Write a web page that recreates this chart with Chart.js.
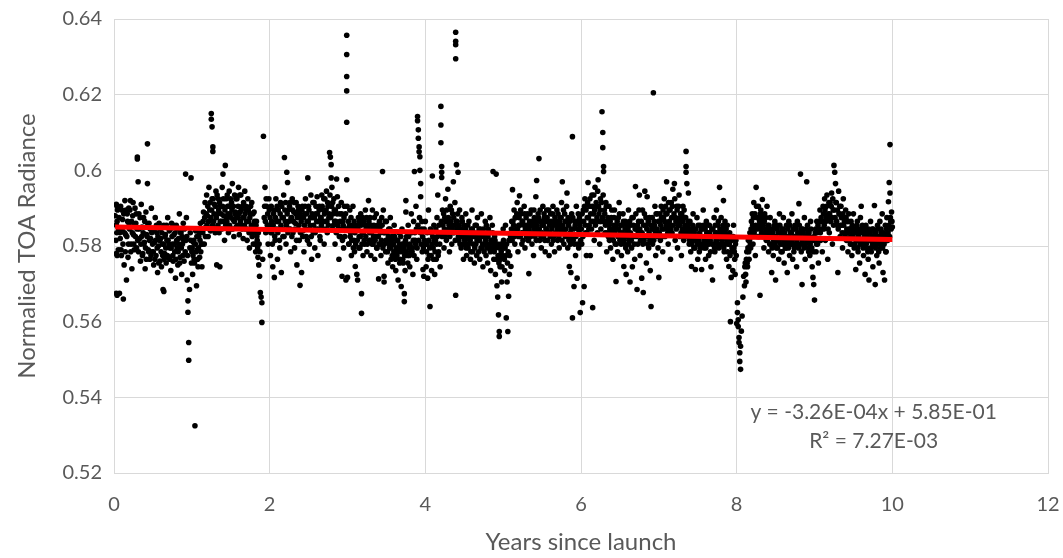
<!DOCTYPE html>
<html>
<head>
<meta charset="utf-8">
<script src="https://cdn.jsdelivr.net/npm/chart.js@4.4.1/dist/chart.umd.min.js"></script>
<style>
  html, body { margin: 0; padding: 0; background: #fff; }
  #wrap { width: 1063px; height: 558px; }
</style>
</head>
<body>
<div id="wrap"><canvas id="toaChart" width="1063" height="558"></canvas></div>
<script>
// [years since launch, normalised radiance], one year at a time
const year0 = [[0.03,0.591],[0.03,0.5855],[0.03,0.578],[0.03,0.5675],[0.04,0.5905],[0.04,0.5865],[0.04,0.5775],[0.04,0.567],[0.06,0.5845],[0.07,0.5675],[0.08,0.582],[0.09,0.579],[0.10,0.5895],[0.11,0.587],[0.12,0.566],[0.13,0.575],[0.14,0.592],[0.15,0.583],[0.16,0.571],[0.17,0.5885],[0.18,0.577],[0.19,0.590],[0.20,0.5845],[0.21,0.592],[0.22,0.5805],[0.23,0.574],[0.24,0.588],[0.25,0.583],[0.26,0.579],[0.27,0.590],[0.28,0.586],[0.29,0.5795],[0.30,0.6035],[0.30,0.603],[0.31,0.597],[0.32,0.5885],[0.33,0.582],[0.34,0.576],[0.35,0.591],[0.36,0.585],[0.37,0.578],[0.38,0.5875],[0.39,0.581],[0.40,0.574],[0.41,0.589],[0.42,0.583],[0.43,0.607],[0.43,0.5965],[0.44,0.579],[0.45,0.586],[0.46,0.5765],[0.47,0.582],[0.48,0.590],[0.49,0.5785],[0.50,0.584],[0.51,0.575],[0.52,0.581],[0.53,0.5875],[0.54,0.5775],[0.55,0.5835],[0.56,0.573],[0.57,0.580],[0.58,0.586],[0.59,0.576],[0.60,0.582],[0.61,0.5745],[0.62,0.5805],[0.63,0.5685],[0.64,0.568],[0.64,0.5855],[0.65,0.578],[0.66,0.583],[0.67,0.5755],[0.68,0.5815],[0.69,0.5875],[0.70,0.577],[0.71,0.584],[0.72,0.5795],[0.73,0.5735],[0.74,0.586],[0.75,0.5805],[0.76,0.576],[0.77,0.583],[0.78,0.5785],[0.79,0.5715],[0.80,0.5855],[0.81,0.5795],[0.82,0.575],[0.83,0.582],[0.84,0.5885],[0.85,0.577],[0.86,0.5835],[0.87,0.5725],[0.88,0.5805],[0.89,0.586],[0.90,0.576],[0.91,0.5815],[0.92,0.599],[0.93,0.5875],[0.94,0.571],[0.95,0.5655],[0.95,0.5625],[0.96,0.5545],[0.96,0.5498],[0.97,0.5685],[0.98,0.5835],[0.99,0.598],[1.00,0.5785],
  [0.015,0.588],[0.025,0.5815],[0.035,0.5835],[0.045,0.5895],[0.055,0.579],[0.065,0.5875],[0.075,0.5835],[0.085,0.5905],[0.095,0.5775],[0.105,0.5845],[0.115,0.5805],[0.125,0.5885],[0.135,0.5835],[0.145,0.5785],[0.155,0.5895],[0.165,0.5825],[0.175,0.5865],[0.185,0.5805],[0.195,0.5855],[0.205,0.5895],[0.215,0.5785],[0.225,0.5865],[0.235,0.5835],[0.245,0.5915],[0.255,0.5805],[0.265,0.5855],[0.275,0.5825],[0.285,0.5885],[0.295,0.5845],[0.305,0.5815],[0.315,0.5785],[0.325,0.5845],[0.335,0.5875],[0.345,0.5805],[0.355,0.5825],[0.365,0.5775],[0.375,0.5835],[0.385,0.5805],[0.395,0.5865],[0.405,0.5795],[0.415,0.5765],[0.425,0.5825],[0.435,0.5855],[0.445,0.5785],[0.455,0.5815],[0.465,0.5845],[0.475,0.5775],[0.485,0.5835],[0.495,0.5805],[0.505,0.5785],[0.515,0.5845],[0.525,0.5765],[0.535,0.5815],[0.545,0.5855],[0.555,0.5795],[0.565,0.5825],[0.575,0.5755],[0.585,0.5815],[0.595,0.5845],[0.605,0.5785],[0.615,0.5835],[0.625,0.5775],[0.635,0.5805],[0.645,0.5765],[0.655,0.5825],[0.665,0.5795],[0.675,0.5855],[0.685,0.5775],[0.695,0.5815],[0.705,0.5805],[0.715,0.5765],[0.725,0.5845],[0.735,0.5795],[0.745,0.5825],[0.755,0.5775],[0.765,0.5855],[0.775,0.5805],[0.785,0.5835],[0.795,0.5765],[0.805,0.5815],[0.815,0.5845],[0.825,0.5785],[0.835,0.5805],[0.845,0.5755],[0.855,0.5835],[0.865,0.5795],[0.875,0.5825],[0.885,0.5775],[0.895,0.5815],[0.905,0.5845],[0.915,0.5785],[0.925,0.5815],[0.935,0.5825],[0.945,0.5775],[0.975,0.5795],[0.985,0.5815],[0.995,0.5755]];
const year1 = [[1.01,0.5725],[1.02,0.581],[1.03,0.5765],[1.04,0.5325],[1.05,0.584],[1.06,0.5695],[1.07,0.579],[1.08,0.5745],[1.09,0.5825],[1.10,0.577],[1.11,0.586],[1.12,0.5805],[1.13,0.5745],[1.14,0.5835],[1.15,0.589],[1.16,0.5805],[1.17,0.5915],[1.18,0.585],[1.19,0.5935],[1.20,0.588],[1.21,0.5825],[1.22,0.5955],[1.23,0.5895],[1.24,0.584],[1.25,0.615],[1.25,0.6135],[1.26,0.6115],[1.26,0.5925],[1.27,0.6062],[1.27,0.605],[1.28,0.5865],[1.29,0.591],[1.30,0.5835],[1.31,0.5945],[1.32,0.575],[1.33,0.5885],[1.34,0.5925],[1.35,0.5835],[1.36,0.5745],[1.37,0.5905],[1.38,0.5865],[1.39,0.5955],[1.40,0.599],[1.41,0.588],[1.42,0.5815],[1.43,0.6013],[1.44,0.5925],[1.45,0.5865],[1.46,0.5905],[1.47,0.5835],[1.48,0.5945],[1.49,0.5885],[1.50,0.5845],[1.51,0.5915],[1.52,0.5965],[1.53,0.587],[1.54,0.5825],[1.55,0.5935],[1.56,0.589],[1.57,0.585],[1.58,0.5925],[1.59,0.5875],[1.60,0.5955],[1.61,0.583],[1.62,0.589],[1.63,0.5935],[1.64,0.5855],[1.65,0.5905],[1.66,0.582],[1.67,0.5875],[1.68,0.5945],[1.69,0.5845],[1.70,0.5895],[1.71,0.5815],[1.72,0.5925],[1.73,0.5865],[1.74,0.5795],[1.75,0.5885],[1.76,0.5835],[1.77,0.5915],[1.78,0.5855],[1.79,0.5805],[1.80,0.589],[1.81,0.5835],[1.82,0.5785],[1.83,0.5865],[1.84,0.5815],[1.85,0.577],[1.86,0.575],[1.87,0.572],[1.88,0.5677],[1.89,0.5665],[1.90,0.565],[1.90,0.5598],[1.91,0.5765],[1.92,0.609],[1.93,0.5875],[1.94,0.5955],[1.95,0.5835],[1.96,0.5905],[1.97,0.5855],[1.98,0.5805],[1.99,0.5925],
  [1.005,0.5795],[1.015,0.5775],[1.025,0.5815],[1.035,0.5755],[1.045,0.5805],[1.055,0.5785],[1.065,0.5825],[1.075,0.5765],[1.085,0.5795],[1.095,0.5835],[1.105,0.5815],[1.115,0.5785],[1.125,0.5845],[1.135,0.5805],[1.145,0.5865],[1.155,0.5845],[1.165,0.5875],[1.175,0.5825],[1.185,0.5885],[1.195,0.5855],[1.205,0.5905],[1.215,0.5865],[1.225,0.5845],[1.235,0.5915],[1.245,0.5875],[1.255,0.5895],[1.265,0.5855],[1.275,0.5925],[1.285,0.5885],[1.295,0.5845],[1.305,0.5905],[1.315,0.5875],[1.325,0.5935],[1.335,0.5855],[1.345,0.5895],[1.355,0.5915],[1.365,0.5865],[1.375,0.5885],[1.385,0.5845],[1.395,0.5905],[1.405,0.5925],[1.415,0.5865],[1.425,0.5895],[1.435,0.5855],[1.445,0.5875],[1.455,0.5935],[1.465,0.5885],[1.475,0.5905],[1.485,0.5855],[1.495,0.5925],[1.505,0.5875],[1.515,0.5895],[1.525,0.5845],[1.535,0.5905],[1.545,0.5865],[1.555,0.5885],[1.565,0.5925],[1.575,0.5875],[1.585,0.5855],[1.595,0.5905],[1.605,0.5885],[1.615,0.5935],[1.625,0.5865],[1.635,0.5895],[1.645,0.5845],[1.655,0.5875],[1.665,0.5915],[1.675,0.5855],[1.685,0.5885],[1.695,0.5905],[1.705,0.5865],[1.715,0.5845],[1.725,0.5895],[1.735,0.5835],[1.745,0.5875],[1.755,0.5905],[1.765,0.5855],[1.775,0.5825],[1.785,0.5885],[1.795,0.5845],[1.805,0.5865],[1.815,0.5805],[1.825,0.5855],[1.835,0.5825],[1.845,0.5795],[1.855,0.5835],[1.865,0.5805],[1.875,0.5785],[1.935,0.5905],[1.945,0.5865],[1.955,0.5925],[1.965,0.5845],[1.975,0.5885],[1.985,0.5855],[1.995,0.5895]];
const year2 = [[2.00,0.5855],[2.01,0.5775],[2.02,0.5905],[2.03,0.5835],[2.04,0.5745],[2.05,0.5885],[2.06,0.5717],[2.07,0.5815],[2.08,0.5925],[2.09,0.5865],[2.10,0.5765],[2.11,0.5895],[2.12,0.5845],[2.13,0.5795],[2.14,0.5915],[2.15,0.573],[2.16,0.5875],[2.17,0.5825],[2.18,0.5935],[2.19,0.6034],[2.20,0.5865],[2.21,0.5805],[2.22,0.5995],[2.23,0.5968],[2.24,0.5895],[2.25,0.5845],[2.26,0.5915],[2.27,0.5785],[2.28,0.5875],[2.29,0.5925],[2.30,0.5835],[2.31,0.589],[2.32,0.5795],[2.33,0.586],[2.34,0.5915],[2.35,0.575],[2.36,0.5845],[2.37,0.5895],[2.38,0.5815],[2.39,0.5696],[2.40,0.5875],[2.41,0.573],[2.42,0.5905],[2.43,0.584],[2.44,0.5785],[2.45,0.5885],[2.46,0.5925],[2.47,0.5825],[2.48,0.5865],[2.49,0.598],[2.50,0.5905],[2.51,0.5805],[2.52,0.5855],[2.53,0.5935],[2.54,0.5765],[2.55,0.5875],[2.56,0.5835],[2.57,0.5915],[2.58,0.5795],[2.59,0.5885],[2.60,0.5845],[2.61,0.593],[2.62,0.5775],[2.63,0.5865],[2.64,0.5905],[2.65,0.5815],[2.66,0.5875],[2.67,0.5935],[2.68,0.5845],[2.69,0.5895],[2.70,0.5805],[2.71,0.5925],[2.72,0.5865],[2.73,0.5945],[2.74,0.5835],[2.75,0.5905],[2.76,0.5875],[2.77,0.6047],[2.78,0.6035],[2.79,0.6015],[2.79,0.598],[2.80,0.5955],[2.81,0.5915],[2.82,0.5855],[2.83,0.5895],[2.84,0.5805],[2.85,0.5865],[2.86,0.5977],[2.87,0.593],[2.88,0.5845],[2.89,0.5765],[2.90,0.5885],[2.91,0.5825],[2.92,0.5915],[2.93,0.572],[2.94,0.5865],[2.95,0.5795],[2.96,0.5905],[2.97,0.5845],[2.98,0.571],[2.99,0.6357],[2.99,0.6306],[2.99,0.6248],[2.99,0.621],[2.99,0.6127],[2.99,0.5975],
  [2.005,0.5875],[2.015,0.5835],[2.025,0.5865],[2.035,0.5805],[2.045,0.5855],[2.055,0.5895],[2.065,0.5825],[2.075,0.5875],[2.085,0.5845],[2.095,0.5905],[2.105,0.5835],[2.115,0.5865],[2.125,0.5815],[2.135,0.5885],[2.145,0.5855],[2.155,0.5905],[2.165,0.5845],[2.175,0.5875],[2.185,0.5825],[2.195,0.5895],[2.205,0.5915],[2.215,0.5855],[2.225,0.5885],[2.235,0.5835],[2.245,0.5865],[2.255,0.5905],[2.265,0.5845],[2.275,0.5875],[2.285,0.5825],[2.295,0.5895],[2.305,0.5865],[2.315,0.5915],[2.325,0.5845],[2.335,0.5885],[2.345,0.5815],[2.355,0.5875],[2.365,0.5905],[2.375,0.5855],[2.385,0.5885],[2.395,0.5835],[2.405,0.5865],[2.415,0.5895],[2.425,0.5825],[2.435,0.5875],[2.445,0.5855],[2.455,0.5905],[2.465,0.5845],[2.475,0.5885],[2.485,0.5815],[2.495,0.5865],[2.505,0.5895],[2.515,0.5845],[2.525,0.5875],[2.535,0.5825],[2.545,0.5885],[2.555,0.5915],[2.565,0.5855],[2.575,0.5875],[2.585,0.5835],[2.595,0.5905],[2.605,0.5865],[2.615,0.5885],[2.625,0.5845],[2.635,0.5895],[2.645,0.5825],[2.655,0.5875],[2.665,0.5855],[2.675,0.5905],[2.685,0.5865],[2.695,0.5925],[2.705,0.5885],[2.715,0.5845],[2.725,0.5895],[2.735,0.5865],[2.745,0.5915],[2.755,0.5855],[2.765,0.5885],[2.775,0.5935],[2.785,0.5875],[2.795,0.5905],[2.805,0.5845],[2.815,0.5885],[2.825,0.5925],[2.835,0.5865],[2.845,0.5895],[2.855,0.5835],[2.865,0.5885],[2.875,0.5855],[2.885,0.5905],[2.895,0.5825],[2.905,0.5865],[2.915,0.5845],[2.925,0.5885],[2.935,0.5815],[2.945,0.5855],[2.955,0.5875],[2.965,0.5825],[2.975,0.5885],[2.985,0.5845],[2.995,0.5905]];
const year3 = [[3.00,0.5717],[3.01,0.5865],[3.02,0.5805],[3.03,0.5895],[3.04,0.5835],[3.05,0.5775],[3.06,0.5855],[3.07,0.5905],[3.08,0.5815],[3.09,0.5785],[3.10,0.5746],[3.11,0.5845],[3.12,0.5725],[3.13,0.571],[3.14,0.5875],[3.15,0.5825],[3.16,0.5795],[3.17,0.5885],[3.18,0.5674],[3.18,0.5622],[3.19,0.5835],[3.20,0.5775],[3.21,0.5865],[3.22,0.5805],[3.23,0.5895],[3.24,0.5845],[3.25,0.5785],[3.26,0.5855],[3.27,0.592],[3.28,0.5815],[3.29,0.5875],[3.30,0.5775],[3.31,0.5835],[3.32,0.5895],[3.33,0.5805],[3.34,0.5855],[3.35,0.5765],[3.36,0.5825],[3.37,0.5885],[3.38,0.5795],[3.39,0.5845],[3.40,0.5713],[3.41,0.5865],[3.42,0.5805],[3.43,0.5775],[3.44,0.5875],[3.45,0.5997],[3.46,0.5895],[3.47,0.572],[3.47,0.5705],[3.48,0.5835],[3.49,0.5785],[3.50,0.5865],[3.51,0.5815],[3.52,0.5755],[3.53,0.5845],[3.54,0.5795],[3.55,0.5875],[3.56,0.5765],[3.57,0.5825],[3.58,0.5745],[3.59,0.5805],[3.60,0.5855],[3.61,0.5775],[3.62,0.5735],[3.63,0.5815],[3.64,0.5785],[3.65,0.571],[3.66,0.5835],[3.67,0.5755],[3.68,0.5795],[3.69,0.5693],[3.70,0.5845],[3.71,0.5765],[3.72,0.5805],[3.73,0.5674],[3.73,0.5653],[3.74,0.5735],[3.75,0.592],[3.75,0.589],[3.76,0.5825],[3.77,0.5775],[3.78,0.5855],[3.79,0.5795],[3.80,0.5745],[3.81,0.5835],[3.82,0.5885],[3.83,0.5785],[3.84,0.5725],[3.85,0.5865],[3.86,0.5997],[3.87,0.5815],[3.88,0.5905],[3.89,0.5765],[3.90,0.6142],[3.90,0.6131],[3.91,0.6107],[3.91,0.6085],[3.92,0.6062],[3.92,0.6049],[3.93,0.6036],[3.93,0.600],[3.94,0.5965],[3.94,0.593],[3.95,0.5845],[3.96,0.5785],[3.97,0.5738],[3.98,0.572],[3.99,0.5815],
  [3.005,0.5845],[3.015,0.5805],[3.025,0.5855],[3.035,0.5825],[3.045,0.5875],[3.055,0.5815],[3.065,0.5845],[3.075,0.5795],[3.085,0.5865],[3.095,0.5835],[3.105,0.5805],[3.115,0.5855],[3.125,0.5815],[3.135,0.5845],[3.145,0.5795],[3.155,0.5865],[3.165,0.5825],[3.175,0.5855],[3.185,0.5805],[3.195,0.5875],[3.205,0.5835],[3.215,0.5815],[3.225,0.5855],[3.235,0.5825],[3.245,0.5875],[3.255,0.5805],[3.265,0.5845],[3.275,0.5865],[3.285,0.5835],[3.295,0.5815],[3.305,0.5855],[3.315,0.5805],[3.325,0.5845],[3.335,0.5825],[3.345,0.5875],[3.355,0.5815],[3.365,0.5845],[3.375,0.5795],[3.385,0.5855],[3.395,0.5825],[3.405,0.5805],[3.415,0.5845],[3.425,0.5835],[3.435,0.5815],[3.445,0.5855],[3.455,0.5795],[3.465,0.5835],[3.475,0.5805],[3.485,0.5865],[3.495,0.5815],[3.505,0.5835],[3.515,0.5785],[3.525,0.5825],[3.535,0.5805],[3.545,0.5845],[3.555,0.5795],[3.565,0.5815],[3.575,0.5775],[3.585,0.5805],[3.595,0.5785],[3.605,0.5825],[3.615,0.5765],[3.625,0.5795],[3.635,0.5775],[3.645,0.5815],[3.655,0.5785],[3.665,0.5805],[3.675,0.5765],[3.685,0.5825],[3.695,0.5785],[3.705,0.5805],[3.715,0.5755],[3.725,0.5795],[3.735,0.5775],[3.745,0.5815],[3.755,0.5785],[3.765,0.5805],[3.775,0.5755],[3.785,0.5825],[3.795,0.5775],[3.805,0.5805],[3.815,0.5785],[3.825,0.5835],[3.835,0.5795],[3.845,0.5815],[3.855,0.5775],[3.865,0.5835],[3.875,0.5805],[3.885,0.5845],[3.895,0.5795],[3.905,0.5855],[3.915,0.5815],[3.925,0.5875],[3.935,0.5835],[3.945,0.5805],[3.955,0.5865],[3.965,0.5825],[3.975,0.5795],[3.985,0.5845],[3.995,0.5805]];
const year4 = [[4.00,0.5865],[4.01,0.5745],[4.02,0.5805],[4.03,0.5715],[4.04,0.5895],[4.05,0.5775],[4.06,0.564],[4.07,0.5835],[4.08,0.5735],[4.09,0.5985],[4.10,0.5795],[4.11,0.5855],[4.12,0.5725],[4.13,0.5815],[4.14,0.5765],[4.15,0.5875],[4.16,0.5935],[4.17,0.5785],[4.18,0.5835],[4.19,0.5745],[4.20,0.6169],[4.20,0.612],[4.20,0.6073],[4.21,0.601],[4.21,0.5995],[4.21,0.5981],[4.22,0.5895],[4.23,0.5835],[4.24,0.5795],[4.25,0.5875],[4.26,0.5925],[4.27,0.5815],[4.28,0.5865],[4.29,0.595],[4.30,0.5845],[4.31,0.5785],[4.32,0.5905],[4.33,0.5855],[4.34,0.5805],[4.35,0.5885],[4.36,0.597],[4.37,0.5835],[4.38,0.5915],[4.39,0.6365],[4.39,0.6341],[4.39,0.6332],[4.39,0.6295],[4.39,0.567],[4.40,0.6015],[4.41,0.5865],[4.42,0.5995],[4.43,0.5815],[4.44,0.5895],[4.45,0.5845],[4.46,0.5795],[4.47,0.5875],[4.48,0.5825],[4.49,0.5765],[4.50,0.5855],[4.51,0.5805],[4.52,0.5885],[4.53,0.5775],[4.54,0.5835],[4.55,0.5795],[4.56,0.5865],[4.57,0.5815],[4.58,0.5765],[4.59,0.5845],[4.60,0.5895],[4.61,0.5785],[4.62,0.5825],[4.63,0.5755],[4.64,0.5855],[4.65,0.5805],[4.66,0.5775],[4.67,0.5875],[4.68,0.5815],[4.69,0.5845],[4.70,0.5765],[4.71,0.5825],[4.72,0.5885],[4.73,0.5795],[4.74,0.5745],[4.75,0.5835],[4.76,0.5805],[4.77,0.5865],[4.78,0.5775],[4.79,0.5825],[4.80,0.5755],[4.81,0.5845],[4.82,0.5795],[4.83,0.5875],[4.84,0.5735],[4.85,0.5815],[4.86,0.5855],[4.87,0.5997],[4.88,0.5765],[4.89,0.5825],[4.90,0.5725],[4.91,0.599],[4.92,0.5695],[4.93,0.5665],[4.94,0.5618],[4.95,0.5561],[4.95,0.5574],[4.96,0.5745],[4.97,0.5805],[4.98,0.5705],[4.99,0.5775],
  [4.005,0.5805],[4.015,0.5785],[4.025,0.5835],[4.035,0.5765],[4.045,0.5815],[4.055,0.5795],[4.065,0.5845],[4.075,0.5775],[4.085,0.5805],[4.095,0.5825],[4.105,0.5765],[4.115,0.5815],[4.125,0.5785],[4.135,0.5845],[4.145,0.5805],[4.155,0.5825],[4.165,0.5775],[4.175,0.5855],[4.185,0.5805],[4.195,0.5835],[4.205,0.5865],[4.215,0.5825],[4.225,0.5855],[4.235,0.5885],[4.245,0.5845],[4.255,0.5825],[4.265,0.5865],[4.275,0.5895],[4.285,0.5835],[4.295,0.5875],[4.305,0.5855],[4.315,0.5825],[4.325,0.5865],[4.335,0.5895],[4.345,0.5845],[4.355,0.5835],[4.365,0.5875],[4.375,0.5855],[4.385,0.5815],[4.395,0.5865],[4.405,0.5845],[4.415,0.5885],[4.425,0.5825],[4.435,0.5855],[4.445,0.5805],[4.455,0.5845],[4.465,0.5825],[4.475,0.5865],[4.485,0.5805],[4.495,0.5835],[4.505,0.5815],[4.515,0.5845],[4.525,0.5795],[4.535,0.5825],[4.545,0.5855],[4.555,0.5805],[4.565,0.5835],[4.575,0.5815],[4.585,0.5785],[4.595,0.5825],[4.605,0.5845],[4.615,0.5805],[4.625,0.5835],[4.635,0.5795],[4.645,0.5825],[4.655,0.5855],[4.665,0.5815],[4.675,0.5835],[4.685,0.5785],[4.695,0.5815],[4.705,0.5845],[4.715,0.5795],[4.725,0.5825],[4.735,0.5805],[4.745,0.5845],[4.755,0.5785],[4.765,0.5825],[4.775,0.5815],[4.785,0.5855],[4.795,0.5795],[4.805,0.5825],[4.815,0.5805],[4.825,0.5835],[4.835,0.5785],[4.845,0.5815],[4.855,0.5795],[4.865,0.5835],[4.875,0.5805],[4.885,0.5785],[4.895,0.5815],[4.905,0.5795],[4.915,0.5765],[4.925,0.5805],[4.935,0.5775],[4.945,0.5755],[4.955,0.5795],[4.965,0.5765],[4.975,0.5785],[4.985,0.5745],[4.995,0.5805]];
const year5 = [[5.00,0.5845],[5.01,0.5795],[5.02,0.5735],[5.03,0.5855],[5.04,0.561],[5.05,0.5705],[5.06,0.5574],[5.07,0.5667],[5.08,0.5725],[5.09,0.5815],[5.10,0.5746],[5.11,0.5865],[5.12,0.5949],[5.13,0.5835],[5.14,0.5895],[5.15,0.5805],[5.16,0.5875],[5.17,0.5845],[5.18,0.5915],[5.19,0.5785],[5.20,0.5855],[5.21,0.5933],[5.22,0.5825],[5.23,0.5885],[5.24,0.5805],[5.25,0.5865],[5.26,0.5835],[5.27,0.5905],[5.28,0.5795],[5.29,0.5855],[5.30,0.5825],[5.31,0.5885],[5.32,0.5815],[5.33,0.5727],[5.34,0.5865],[5.35,0.5835],[5.36,0.5895],[5.37,0.5805],[5.38,0.5855],[5.39,0.5775],[5.40,0.5875],[5.41,0.5825],[5.42,0.593],[5.43,0.5973],[5.44,0.5845],[5.45,0.5885],[5.46,0.6031],[5.47,0.5815],[5.48,0.5865],[5.49,0.5795],[5.50,0.5855],[5.51,0.5905],[5.52,0.5825],[5.53,0.5875],[5.54,0.5785],[5.55,0.5845],[5.56,0.5895],[5.57,0.5815],[5.58,0.5865],[5.59,0.5775],[5.60,0.5835],[5.61,0.5885],[5.62,0.5805],[5.63,0.5855],[5.64,0.5905],[5.65,0.5825],[5.66,0.5785],[5.67,0.5865],[5.68,0.5835],[5.69,0.5895],[5.70,0.5815],[5.71,0.5855],[5.72,0.5795],[5.73,0.5875],[5.74,0.5835],[5.75,0.5915],[5.76,0.597],[5.77,0.5845],[5.78,0.5805],[5.79,0.5885],[5.80,0.5825],[5.81,0.5865],[5.82,0.594],[5.83,0.5795],[5.84,0.5855],[5.85,0.5746],[5.86,0.5835],[5.87,0.573],[5.88,0.5885],[5.89,0.6089],[5.89,0.561],[5.90,0.5815],[5.91,0.5693],[5.92,0.5865],[5.93,0.5775],[5.94,0.5905],[5.95,0.5715],[5.96,0.5845],[5.97,0.5795],[5.98,0.5875],[5.99,0.5624],
  [5.005,0.5815],[5.015,0.5765],[5.025,0.5795],[5.035,0.5775],[5.045,0.5805],[5.055,0.5755],[5.065,0.5785],[5.075,0.5815],[5.085,0.5775],[5.095,0.5825],[5.105,0.5845],[5.115,0.5815],[5.125,0.5865],[5.135,0.5855],[5.145,0.5825],[5.155,0.5875],[5.165,0.5835],[5.175,0.5885],[5.185,0.5845],[5.195,0.5825],[5.205,0.5875],[5.215,0.5855],[5.225,0.5895],[5.235,0.5835],[5.245,0.5865],[5.255,0.5815],[5.265,0.5855],[5.275,0.5885],[5.285,0.5845],[5.295,0.5875],[5.305,0.5835],[5.315,0.5855],[5.325,0.5815],[5.335,0.5845],[5.345,0.5885],[5.355,0.5825],[5.365,0.5855],[5.375,0.5865],[5.385,0.5835],[5.395,0.5895],[5.405,0.5845],[5.415,0.5865],[5.425,0.5815],[5.435,0.5855],[5.445,0.5835],[5.455,0.5875],[5.465,0.5845],[5.475,0.5895],[5.485,0.5825],[5.495,0.5865],[5.505,0.5835],[5.515,0.5855],[5.525,0.5885],[5.535,0.5815],[5.545,0.5865],[5.555,0.5845],[5.565,0.5875],[5.575,0.5835],[5.585,0.5895],[5.595,0.5855],[5.605,0.5825],[5.615,0.5865],[5.625,0.5845],[5.635,0.5885],[5.645,0.5815],[5.655,0.5855],[5.665,0.5875],[5.675,0.5835],[5.685,0.5865],[5.695,0.5845],[5.705,0.5885],[5.715,0.5825],[5.725,0.5865],[5.735,0.5845],[5.745,0.5875],[5.755,0.5815],[5.765,0.5855],[5.775,0.5895],[5.785,0.5835],[5.795,0.5865],[5.805,0.5845],[5.815,0.5905],[5.825,0.5825],[5.835,0.5875],[5.845,0.5815],[5.855,0.5865],[5.865,0.5805],[5.875,0.5845],[5.885,0.5825],[5.895,0.5875],[5.905,0.5845],[5.915,0.5805],[5.925,0.5855],[5.935,0.5825],[5.945,0.5865],[5.955,0.5805],[5.965,0.5885],[5.975,0.5835],[5.985,0.5855],[5.995,0.5815]];
const year6 = [[6.00,0.5865],[6.01,0.5805],[6.02,0.565],[6.03,0.5895],[6.04,0.5693],[6.05,0.5925],[6.06,0.5835],[6.07,0.5775],[6.08,0.5875],[6.09,0.5968],[6.10,0.5845],[6.11,0.5905],[6.12,0.5775],[6.13,0.5865],[6.14,0.5935],[6.15,0.5637],[6.16,0.5885],[6.17,0.5815],[6.18,0.5955],[6.19,0.5865],[6.20,0.5905],[6.21,0.5835],[6.22,0.5975],[6.23,0.5885],[6.24,0.5805],[6.25,0.5925],[6.26,0.5865],[6.27,0.6155],[6.28,0.61],[6.28,0.606],[6.29,0.601],[6.29,0.5997],[6.30,0.5895],[6.31,0.5835],[6.32,0.5915],[6.33,0.5785],[6.34,0.5865],[6.35,0.5825],[6.36,0.5905],[6.37,0.5845],[6.38,0.5795],[6.39,0.5875],[6.40,0.5825],[6.41,0.5765],[6.42,0.5855],[6.43,0.5895],[6.44,0.5805],[6.45,0.5706],[6.46,0.5845],[6.47,0.5785],[6.48,0.5875],[6.49,0.5915],[6.50,0.5815],[6.51,0.5855],[6.52,0.5775],[6.53,0.5835],[6.54,0.5885],[6.55,0.5746],[6.56,0.5805],[6.57,0.5865],[6.58,0.5725],[6.59,0.5835],[6.60,0.5785],[6.61,0.5895],[6.62,0.5815],[6.63,0.5705],[6.64,0.5855],[6.65,0.5795],[6.66,0.5745],[6.67,0.5875],[6.68,0.5825],[6.69,0.5765],[6.70,0.5957],[6.71,0.5845],[6.72,0.5685],[6.73,0.5805],[6.74,0.5865],[6.75,0.5935],[6.76,0.5775],[6.77,0.5835],[6.78,0.5715],[6.79,0.5895],[6.80,0.5677],[6.81,0.5815],[6.82,0.5945],[6.83,0.5855],[6.84,0.5755],[6.85,0.593],[6.86,0.5825],[6.87,0.5795],[6.88,0.5875],[6.89,0.5735],[6.90,0.564],[6.91,0.5845],[6.92,0.5805],[6.93,0.6205],[6.94,0.5865],[6.95,0.5905],[6.96,0.5775],[6.97,0.5835],[6.98,0.5885],[6.99,0.5795],
  [6.005,0.5845],[6.015,0.5885],[6.025,0.5825],[6.035,0.5865],[6.045,0.5905],[6.055,0.5855],[6.065,0.5895],[6.075,0.5835],[6.085,0.5915],[6.095,0.5875],[6.105,0.5855],[6.115,0.5925],[6.125,0.5885],[6.135,0.5845],[6.145,0.5905],[6.155,0.5865],[6.165,0.5935],[6.175,0.5895],[6.185,0.5855],[6.195,0.5915],[6.205,0.5875],[6.215,0.5945],[6.225,0.5905],[6.235,0.5865],[6.245,0.5895],[6.255,0.5845],[6.265,0.5915],[6.275,0.5875],[6.285,0.5935],[6.295,0.5865],[6.305,0.5885],[6.315,0.5855],[6.325,0.5905],[6.335,0.5835],[6.345,0.5875],[6.355,0.5855],[6.365,0.5815],[6.375,0.5865],[6.385,0.5835],[6.395,0.5895],[6.405,0.5845],[6.415,0.5815],[6.425,0.5875],[6.435,0.5835],[6.445,0.5855],[6.455,0.5805],[6.465,0.5865],[6.475,0.5825],[6.485,0.5845],[6.495,0.5885],[6.505,0.5835],[6.515,0.5805],[6.525,0.5855],[6.535,0.5825],[6.545,0.5865],[6.555,0.5815],[6.565,0.5845],[6.575,0.5795],[6.585,0.5855],[6.595,0.5825],[6.605,0.5845],[6.615,0.5805],[6.625,0.5865],[6.635,0.5835],[6.645,0.5815],[6.655,0.5875],[6.665,0.5825],[6.675,0.5855],[6.685,0.5805],[6.695,0.5845],[6.705,0.5885],[6.715,0.5825],[6.725,0.5855],[6.735,0.5835],[6.745,0.5895],[6.755,0.5845],[6.765,0.5815],[6.775,0.5865],[6.785,0.5835],[6.795,0.5805],[6.805,0.5855],[6.815,0.5885],[6.825,0.5825],[6.835,0.5875],[6.845,0.5845],[6.855,0.5805],[6.865,0.5865],[6.875,0.5835],[6.885,0.5815],[6.895,0.5855],[6.905,0.5825],[6.915,0.5875],[6.925,0.5845],[6.935,0.5815],[6.945,0.5855],[6.955,0.5835],[6.965,0.5885],[6.975,0.5845],[6.985,0.5825],[6.995,0.5865]];
const year7 = [[7.00,0.5717],[7.01,0.5865],[7.02,0.5815],[7.03,0.5905],[7.04,0.5845],[7.05,0.5785],[7.06,0.5875],[7.07,0.5925],[7.08,0.5825],[7.09,0.5885],[7.10,0.597],[7.11,0.5845],[7.12,0.5805],[7.13,0.5895],[7.14,0.5855],[7.15,0.5765],[7.16,0.5915],[7.17,0.5835],[7.18,0.595],[7.19,0.5875],[7.20,0.5965],[7.21,0.5815],[7.22,0.5865],[7.23,0.5905],[7.24,0.5795],[7.25,0.5855],[7.26,0.5935],[7.27,0.5825],[7.28,0.5885],[7.29,0.5775],[7.30,0.5845],[7.31,0.5905],[7.32,0.5815],[7.33,0.5875],[7.34,0.5835],[7.35,0.605],[7.35,0.601],[7.35,0.5995],[7.36,0.5965],[7.37,0.5855],[7.38,0.594],[7.39,0.5805],[7.40,0.5865],[7.41,0.5785],[7.42,0.5746],[7.43,0.5835],[7.44,0.5885],[7.45,0.5795],[7.46,0.5845],[7.47,0.5738],[7.48,0.5815],[7.49,0.5875],[7.50,0.5765],[7.51,0.5825],[7.52,0.5785],[7.53,0.5855],[7.54,0.5805],[7.55,0.5738],[7.56,0.5845],[7.57,0.5895],[7.58,0.5795],[7.59,0.5825],[7.60,0.5765],[7.61,0.5865],[7.62,0.5805],[7.63,0.5835],[7.64,0.5775],[7.65,0.5855],[7.66,0.5815],[7.67,0.5745],[7.68,0.5845],[7.69,0.571],[7.70,0.5805],[7.71,0.5875],[7.72,0.5785],[7.73,0.5835],[7.74,0.5895],[7.75,0.5815],[7.76,0.5855],[7.77,0.5795],[7.78,0.5955],[7.79,0.5835],[7.80,0.5875],[7.81,0.5805],[7.82,0.5845],[7.83,0.592],[7.84,0.5785],[7.85,0.5865],[7.86,0.5825],[7.87,0.5765],[7.88,0.5855],[7.89,0.5805],[7.90,0.5746],[7.91,0.5835],[7.92,0.560],[7.93,0.5717],[7.94,0.5795],[7.95,0.5735],[7.96,0.5855],[7.97,0.5785],[7.98,0.5725],[7.99,0.5815],
  [7.005,0.5835],[7.015,0.5885],[7.025,0.5855],[7.035,0.5875],[7.045,0.5825],[7.055,0.5895],[7.065,0.5845],[7.075,0.5865],[7.085,0.5905],[7.095,0.5855],[7.105,0.5885],[7.115,0.5835],[7.125,0.5915],[7.135,0.5865],[7.145,0.5895],[7.155,0.5845],[7.165,0.5875],[7.175,0.5905],[7.185,0.5855],[7.195,0.5885],[7.205,0.5925],[7.215,0.5875],[7.225,0.5845],[7.235,0.5895],[7.245,0.5865],[7.255,0.5905],[7.265,0.5855],[7.275,0.5875],[7.285,0.5835],[7.295,0.5885],[7.305,0.5865],[7.315,0.5845],[7.325,0.5895],[7.335,0.5855],[7.345,0.5875],[7.355,0.5845],[7.365,0.5825],[7.375,0.5865],[7.385,0.5835],[7.395,0.5815],[7.405,0.5845],[7.415,0.5825],[7.425,0.5805],[7.435,0.5855],[7.445,0.5815],[7.455,0.5835],[7.465,0.5795],[7.475,0.5845],[7.485,0.5825],[7.495,0.5805],[7.505,0.5855],[7.515,0.5815],[7.525,0.5835],[7.535,0.5795],[7.545,0.5845],[7.555,0.5825],[7.565,0.5805],[7.575,0.5855],[7.585,0.5815],[7.595,0.5845],[7.605,0.5795],[7.615,0.5835],[7.625,0.5815],[7.635,0.5855],[7.645,0.5805],[7.655,0.5835],[7.665,0.5785],[7.675,0.5825],[7.685,0.5805],[7.695,0.5845],[7.705,0.5825],[7.715,0.5795],[7.725,0.5855],[7.735,0.5815],[7.745,0.5835],[7.755,0.5805],[7.765,0.5865],[7.775,0.5825],[7.785,0.5845],[7.795,0.5805],[7.805,0.5835],[7.815,0.5815],[7.825,0.5855],[7.835,0.5795],[7.845,0.5835],[7.855,0.5805],[7.865,0.5845],[7.875,0.5815],[7.885,0.5785],[7.895,0.5825],[7.905,0.5805],[7.915,0.5775],[7.935,0.5815],[7.945,0.5785],[7.955,0.5825],[7.965,0.5795],[7.975,0.5765],[7.985,0.5805],[7.995,0.5775]];
const year8 = [[8.00,0.5595],[8.01,0.565],[8.01,0.5624],[8.02,0.5605],[8.02,0.5587],[8.03,0.5558],[8.03,0.5545],[8.04,0.5518],[8.04,0.5495],[8.05,0.5474],[8.05,0.5535],[8.06,0.5575],[8.07,0.5615],[8.08,0.5665],[8.09,0.572],[8.10,0.5695],[8.11,0.5755],[8.12,0.5705],[8.13,0.5785],[8.14,0.5745],[8.15,0.5815],[8.16,0.5765],[8.17,0.5835],[8.18,0.5795],[8.19,0.5865],[8.20,0.5885],[8.21,0.5805],[8.22,0.5915],[8.23,0.5845],[8.24,0.5775],[8.25,0.5955],[8.26,0.5875],[8.27,0.5825],[8.28,0.5905],[8.29,0.5855],[8.30,0.567],[8.31,0.5895],[8.32,0.5835],[8.33,0.5923],[8.34,0.5865],[8.35,0.5795],[8.36,0.5885],[8.37,0.5845],[8.38,0.5815],[8.39,0.5905],[8.40,0.5855],[8.41,0.5785],[8.42,0.5835],[8.43,0.5875],[8.44,0.5805],[8.45,0.573],[8.46,0.5845],[8.47,0.5775],[8.48,0.5825],[8.49,0.5865],[8.50,0.571],[8.51,0.5795],[8.52,0.5855],[8.53,0.5815],[8.54,0.5765],[8.55,0.5885],[8.56,0.5835],[8.57,0.5785],[8.58,0.5845],[8.59,0.5805],[8.60,0.5875],[8.61,0.5755],[8.62,0.5825],[8.63,0.5795],[8.64,0.5855],[8.65,0.573],[8.66,0.5815],[8.67,0.5865],[8.68,0.5775],[8.69,0.5835],[8.70,0.5805],[8.71,0.5885],[8.72,0.5765],[8.73,0.5845],[8.74,0.5795],[8.75,0.5855],[8.76,0.5825],[8.77,0.5745],[8.78,0.5865],[8.79,0.5805],[8.80,0.5912],[8.81,0.5835],[8.82,0.599],[8.83,0.5785],[8.84,0.5698],[8.85,0.5845],[8.86,0.5805],[8.87,0.5875],[8.88,0.5765],[8.89,0.5825],[8.90,0.597],[8.91,0.5855],[8.92,0.5795],[8.93,0.5835],[8.94,0.5775],[8.95,0.5865],[8.96,0.5815],[8.97,0.5745],[8.98,0.5717],[8.99,0.5698],
  [8.105,0.5745],[8.115,0.5725],[8.125,0.5765],[8.135,0.5755],[8.145,0.5795],[8.155,0.5785],[8.165,0.5815],[8.175,0.5805],[8.185,0.5845],[8.195,0.5825],[8.205,0.5855],[8.215,0.5875],[8.225,0.5835],[8.235,0.5885],[8.245,0.5855],[8.255,0.5905],[8.265,0.5845],[8.275,0.5875],[8.285,0.5825],[8.295,0.5865],[8.305,0.5885],[8.315,0.5845],[8.325,0.5875],[8.335,0.5855],[8.345,0.5825],[8.355,0.5865],[8.365,0.5835],[8.375,0.5875],[8.385,0.5845],[8.395,0.5815],[8.405,0.5835],[8.415,0.5855],[8.425,0.5805],[8.435,0.5845],[8.445,0.5825],[8.455,0.5795],[8.465,0.5835],[8.475,0.5815],[8.485,0.5855],[8.495,0.5805],[8.505,0.5825],[8.515,0.5845],[8.525,0.5795],[8.535,0.5835],[8.545,0.5815],[8.555,0.5855],[8.565,0.5805],[8.575,0.5825],[8.585,0.5785],[8.595,0.5845],[8.605,0.5815],[8.615,0.5835],[8.625,0.5795],[8.635,0.5825],[8.645,0.5805],[8.655,0.5845],[8.665,0.5795],[8.675,0.5825],[8.685,0.5855],[8.695,0.5805],[8.705,0.5835],[8.715,0.5815],[8.725,0.5845],[8.735,0.5785],[8.745,0.5825],[8.755,0.5805],[8.765,0.5845],[8.775,0.5815],[8.785,0.5835],[8.795,0.5795],[8.805,0.5855],[8.815,0.5825],[8.825,0.5805],[8.835,0.5845],[8.845,0.5815],[8.855,0.5835],[8.865,0.5795],[8.875,0.5825],[8.885,0.5805],[8.895,0.5845],[8.905,0.5815],[8.915,0.5835],[8.925,0.5785],[8.935,0.5825],[8.945,0.5805],[8.955,0.5845],[8.965,0.5795],[8.975,0.5815],[8.985,0.5785],[8.995,0.5825]];
const year9 = [[9.00,0.5657],[9.01,0.5835],[9.02,0.5785],[9.03,0.5865],[9.04,0.5805],[9.05,0.5755],[9.06,0.5845],[9.07,0.5895],[9.08,0.5815],[9.09,0.5865],[9.10,0.5785],[9.11,0.5905],[9.12,0.5845],[9.13,0.5925],[9.14,0.5815],[9.15,0.5875],[9.16,0.5935],[9.17,0.5765],[9.18,0.5885],[9.19,0.5835],[9.20,0.5915],[9.21,0.5865],[9.22,0.594],[9.23,0.5805],[9.24,0.5895],[9.25,0.6013],[9.26,0.5995],[9.27,0.5965],[9.28,0.5915],[9.29,0.5855],[9.30,0.573],[9.31,0.5945],[9.32,0.5885],[9.33,0.5825],[9.34,0.5905],[9.35,0.5855],[9.36,0.5795],[9.37,0.5925],[9.38,0.5875],[9.39,0.5835],[9.40,0.5895],[9.41,0.5815],[9.42,0.5865],[9.43,0.5785],[9.44,0.5885],[9.45,0.5845],[9.46,0.5805],[9.47,0.5865],[9.48,0.5775],[9.49,0.5835],[9.50,0.5885],[9.51,0.5795],[9.52,0.5845],[9.53,0.5738],[9.54,0.5815],[9.55,0.5865],[9.56,0.5785],[9.57,0.5835],[9.58,0.5755],[9.59,0.5875],[9.60,0.5905],[9.61,0.5805],[9.62,0.5845],[9.63,0.5775],[9.64,0.5825],[9.65,0.5725],[9.66,0.5855],[9.67,0.5795],[9.68,0.5835],[9.69,0.5765],[9.70,0.571],[9.71,0.5815],[9.72,0.5865],[9.73,0.5785],[9.74,0.5845],[9.75,0.5745],[9.76,0.5805],[9.77,0.5907],[9.78,0.5698],[9.79,0.5835],[9.80,0.5775],[9.81,0.5855],[9.82,0.5815],[9.83,0.5755],[9.84,0.5865],[9.85,0.5795],[9.86,0.5835],[9.87,0.5885],[9.88,0.573],[9.89,0.5825],[9.90,0.571],[9.91,0.5855],[9.92,0.5785],[9.93,0.5875],[9.94,0.5815],[9.95,0.5917],[9.96,0.5968],[9.97,0.6068],[9.97,0.594],[9.98,0.5865],[9.99,0.589],[10.00,0.585],
  [9.005,0.5815],[9.015,0.5845],[9.025,0.5805],[9.035,0.5835],[9.045,0.5855],[9.055,0.5815],[9.065,0.5865],[9.075,0.5835],[9.085,0.5875],[9.095,0.5845],[9.105,0.5865],[9.115,0.5885],[9.125,0.5855],[9.135,0.5895],[9.145,0.5865],[9.155,0.5905],[9.165,0.5875],[9.175,0.5845],[9.185,0.5915],[9.195,0.5885],[9.205,0.5865],[9.215,0.5905],[9.225,0.5875],[9.235,0.5925],[9.245,0.5855],[9.255,0.5895],[9.265,0.5875],[9.275,0.5915],[9.285,0.5865],[9.295,0.5895],[9.305,0.5845],[9.315,0.5885],[9.325,0.5905],[9.335,0.5855],[9.345,0.5875],[9.355,0.5835],[9.365,0.5885],[9.375,0.5855],[9.385,0.5865],[9.395,0.5825],[9.405,0.5875],[9.415,0.5845],[9.425,0.5835],[9.435,0.5865],[9.445,0.5815],[9.455,0.5845],[9.465,0.5825],[9.475,0.5805],[9.485,0.5855],[9.495,0.5825],[9.505,0.5845],[9.515,0.5805],[9.525,0.5835],[9.535,0.5815],[9.545,0.5855],[9.555,0.5795],[9.565,0.5825],[9.575,0.5845],[9.585,0.5805],[9.595,0.5835],[9.605,0.5815],[9.615,0.5855],[9.625,0.5795],[9.635,0.5835],[9.645,0.5815],[9.655,0.5845],[9.665,0.5805],[9.675,0.5825],[9.685,0.5785],[9.695,0.5845],[9.705,0.5815],[9.715,0.5835],[9.725,0.5795],[9.735,0.5825],[9.745,0.5805],[9.755,0.5845],[9.765,0.5815],[9.775,0.5835],[9.785,0.5795],[9.795,0.5825],[9.805,0.5805],[9.815,0.5845],[9.825,0.5785],[9.835,0.5825],[9.845,0.5805],[9.855,0.5845],[9.865,0.5815],[9.875,0.5795],[9.885,0.5835],[9.895,0.5805],[9.905,0.5825],[9.915,0.5785],[9.925,0.5845],[9.935,0.5815],[9.945,0.5835],[9.955,0.5855],[9.965,0.5825],[9.975,0.5875],[9.985,0.5845],[9.995,0.5865]];

// Excel linear trendline as printed on the chart
const trendSlope = -3.26e-4;
const trendIntercept = 5.85e-1;
const trendText = ["y = -3.26E-04x + 5.85E-01", "R\u00b2 = 7.27E-03"];
const trendTextAt = [9.76, 0.536]; // years, radiance

const xTitle = "Years since launch";
const yTitle = "Normalied TOA Radiance";
const xTicks = { min: 0, max: 12, step: 2 };
const yTicks = { min: 0.52, max: 0.64, step: 0.02 };

const textGrey = "#595959";
const gridGrey = "#d9d9d9";
const fontFamily = "Lato, 'Open Sans', sans-serif";

const points = [year0, year1, year2, year3, year4, year5, year6, year7, year8, year9]
  .flat()
  .map(([x, y]) => ({ x: x, y: y }));

const xs = points.map((p) => p.x);
const xStart = Math.min(...xs);
const xEnd = Math.max(...xs);
const trendLine = [
  { x: xStart, y: trendSlope * xStart + trendIntercept },
  { x: xEnd, y: trendSlope * xEnd + trendIntercept },
];

const equationLabel = {
  id: "equationLabel",
  afterDatasetsDraw(chart) {
    const { ctx, scales } = chart;
    const px = scales.x.getPixelForValue(trendTextAt[0]);
    const py = scales.y.getPixelForValue(trendTextAt[1]);
    ctx.save();
    ctx.fillStyle = textGrey;
    ctx.font = "21px " + fontFamily;
    ctx.textAlign = "center";
    ctx.textBaseline = "middle";
    trendText.forEach((line, i) => {
      ctx.fillText(line, px, py + i * 29);
    });
    ctx.restore();
  },
};

const ctx = document.getElementById("toaChart").getContext("2d");
window.toaChart = new Chart(ctx, {
  type: "scatter",
  data: {
    datasets: [
      {
        type: "line",
        label: "Trend",
        data: trendLine,
        borderColor: "#ff0000",
        borderWidth: 5,
        pointRadius: 0,
        fill: false,
      },
      {
        label: "Normalied TOA Radiance",
        data: points,
        backgroundColor: "#000000",
        borderWidth: 0,
        pointRadius: 2.8,
      },
    ],
  },
  options: {
    responsive: false,
    animation: false,
    devicePixelRatio: 1,
    layout: { padding: { left: 0, right: 15, top: 19, bottom: 0 } },
    plugins: {
      legend: { display: false },
      tooltip: { enabled: false },
    },
    scales: {
      x: {
        type: "linear",
        min: xTicks.min,
        max: xTicks.max,
        ticks: {
          stepSize: xTicks.step,
          color: textGrey,
          font: { family: fontFamily, size: 20 },
          padding: 20,
          maxRotation: 0,
        },
        grid: { color: gridGrey, drawTicks: false },
        border: { color: gridGrey },
        title: {
          display: true,
          text: xTitle,
          color: textGrey,
          font: { family: fontFamily, size: 24 },
          padding: { top: 0, bottom: 1 },
        },
        afterFit: (scale) => {
          scale.height = 85;
          scale.paddingLeft = 0;
          scale.paddingRight = 0;
        },
      },
      y: {
        type: "linear",
        min: yTicks.min,
        max: yTicks.max,
        ticks: {
          stepSize: yTicks.step,
          color: textGrey,
          font: { family: fontFamily, size: 20 },
          padding: 12,
          callback: (v) => String(+v.toFixed(2)),
        },
        grid: { color: gridGrey, drawTicks: false },
        border: { color: gridGrey },
        title: {
          display: true,
          text: yTitle,
          color: textGrey,
          font: { family: fontFamily, size: 24 },
          padding: { top: 13, bottom: 0 },
        },
        afterFit: (scale) => {
          scale.width = 114;
          scale.paddingTop = 0;
          scale.paddingBottom = 0;
        },
      },
    },
  },
  plugins: [equationLabel],
});
</script>
</body>
</html>
